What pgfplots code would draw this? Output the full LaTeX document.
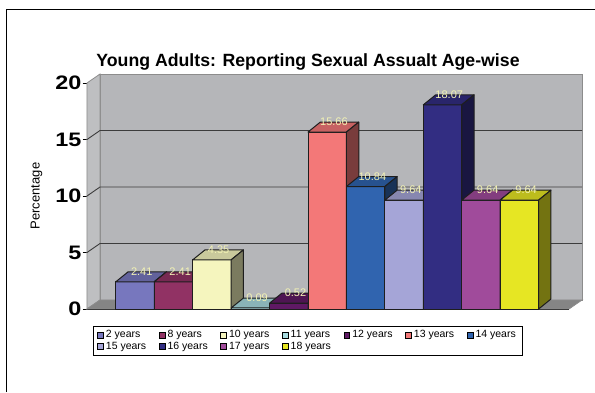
\documentclass[border=0pt]{standalone}
\usepackage{fontspec}
\setmainfont{Liberation Sans}
\usepackage{graphicx}
\usepackage{pgfplots}
\pgfplotsset{compat=1.18}
\definecolor{c2}{HTML}{7777BE}
\definecolor{c8}{HTML}{913264}
\definecolor{c10}{HTML}{F5F5BE}
\definecolor{c11}{HTML}{A8DCE0}
\definecolor{c12}{HTML}{5F1964}
\definecolor{c13}{HTML}{F37878}
\definecolor{c14}{HTML}{3064AF}
\definecolor{c15}{HTML}{A5A5D7}
\definecolor{c16}{HTML}{322D82}
\definecolor{c17}{HTML}{A04B9B}
\definecolor{c18}{HTML}{E6E623}
\definecolor{wallback}{HTML}{B5B6B9}
\definecolor{wallleft}{HTML}{BEBFC1}
\definecolor{walledge}{HTML}{8C8C8C}
\definecolor{floorgray}{HTML}{858585}
\definecolor{gridc}{HTML}{3C3C3C}
\definecolor{barline}{HTML}{1E1E1E}
\definecolor{labelc}{HTML}{F2F2B4}
% 3-D bar: index, value, colour
\newcommand\tdbar[3]{%
  \pgfmathsetmacro\xl{#1-0.5}%
  \pgfmathsetmacro\xr{#1+0.5}%
  \pgfmathsetmacro\xlb{#1-0.5+0.32}%
  \pgfmathsetmacro\xrb{#1+0.5+0.32}%
  \pgfmathsetmacro\vt{#2+0.88}%
  \addplot[forget plot, fill=#3, draw=barline, line width=1pt, line join=round] coordinates {(\xl,0) (\xr,0) (\xr,#2) (\xl,#2)} -- cycle;
  \addplot[forget plot, fill=#3!82!black, draw=barline, line width=1pt, line join=round] coordinates {(\xl,#2) (\xr,#2) (\xrb,\vt) (\xlb,\vt)} -- cycle;
  \addplot[forget plot, fill=#3!50!black, draw=barline, line width=1pt, line join=round] coordinates {(\xr,0) (\xrb,0.88) (\xrb,\vt) (\xr,#2)} -- cycle;
}
\begin{document}
\begin{tikzpicture}
\useasboundingbox (0,0) rectangle (595pt,392pt);
\draw[black, line width=1pt] (6.7pt,0pt) -- (6.7pt,382pt) -- (595pt,382pt);
\begin{axis}[
  at={(87pt,83pt)}, anchor=south west,
  scale only axis, width=482pt, height=226pt,
  xmin=-1.25, xmax=11.29, ymin=0, ymax=20,
  clip=false,
  axis lines*=left,
  axis line style={black, line width=0.9pt},
  xtick=\empty,
  ytick={0,5,10,15,20},
  tick align=outside, major tick length=4.3pt,
  tick style={black, line width=0.9pt},
  yticklabel={\scalebox{1.2}[1]{\pgfmathprintnumber[assume math mode=true]{\tick}}},
  yticklabel style={font=\fontsize{19.5}{20}\selectfont\bfseries, inner xsep=1pt},
  ylabel={Percentage},
  ylabel style={at={(axis description cs:-0.105,0.5)}, anchor=center, font=\fontsize{13}{14}\selectfont},
  every axis title shift=0pt,
  title={Young Adults: Reporting Sexual Assualt Age-wise},
  title style={at={(axis description cs:0.4585,1.072)}, anchor=base, font=\fontsize{17.7}{18}\selectfont\bfseries},
  legend columns=7,
  legend image code/.code={\draw[#1, draw=black, line width=0.6pt] (0pt,-2.9pt) rectangle (5.8pt,2.9pt);},
  legend style={at={(axis description cs:0.012,-0.075)}, anchor=north west,
    draw=black, line width=0.9pt, inner xsep=4pt, inner ysep=3pt,
    font=\fontsize{10.5}{12}\selectfont, /tikz/column sep=0pt,
    nodes={inner xsep=2.3pt, inner ysep=1pt, text height=7.4pt, text depth=2.1pt}},
  legend cell align=left,
]
% walls and floor
\addplot[forget plot, fill=wallback, draw=walledge, line width=0.8pt] coordinates {(-0.91,0.8) (11.63,0.8) (11.63,20.8) (-0.91,20.8)} -- cycle;
\addplot[forget plot, fill=wallleft, draw=walledge, line width=0.8pt] coordinates {(-1.25,0) (-0.91,0.8) (-0.91,20.8) (-1.25,20)} -- cycle;
\addplot[forget plot, fill=floorgray, draw=walledge, line width=0.8pt] coordinates {(-1.25,0) (11.29,0) (11.63,0.8) (-0.91,0.8)} -- cycle;
\addplot[forget plot, gridc, line width=0.9pt] coordinates {(-1.25,5) (-0.91,5.8) (11.63,5.8)};
\addplot[forget plot, gridc, line width=0.9pt] coordinates {(-1.25,10) (-0.91,10.8) (11.63,10.8)};
\addplot[forget plot, gridc, line width=0.9pt] coordinates {(-1.25,15) (-0.91,15.8) (11.63,15.8)};
% bars
\tdbar{0}{2.41}{c2}
\tdbar{1}{2.41}{c8}
\tdbar{2}{4.35}{c10}
\tdbar{3}{0.09}{c11}
\tdbar{4}{0.52}{c12}
\tdbar{5}{15.66}{c13}
\tdbar{6}{10.84}{c14}
\tdbar{7}{9.64}{c15}
\tdbar{8}{18.07}{c16}
\tdbar{9}{9.64}{c17}
\tdbar{10}{9.64}{c18}
% value labels
\addplot[forget plot, draw=none, point meta=y,
  nodes near coords={\pgfmathprintnumber[fixed, fixed zerofill, precision=2, assume math mode=true]{\pgfplotspointmeta}},
  every node near coord/.append style={anchor=center, xshift=6.7pt, yshift=10pt, inner sep=0pt, text=labelc, font=\fontsize{11}{12}\selectfont}]
  coordinates {(0,2.41) (1,2.41) (2,4.35) (3,0.09) (4,0.52) (5,15.66) (6,10.84) (7,9.64) (8,18.07) (9,9.64) (10,9.64)};
% legend
\addlegendimage{fill=c2}\addlegendentry{\makebox[50.6pt][l]{2 years}}
\addlegendimage{fill=c8}\addlegendentry{\makebox[50.6pt][l]{8 years}}
\addlegendimage{fill=c10}\addlegendentry{\makebox[50.6pt][l]{10 years}}
\addlegendimage{fill=c11}\addlegendentry{\makebox[50.6pt][l]{11 years}}
\addlegendimage{fill=c12}\addlegendentry{\makebox[50.6pt][l]{12 years}}
\addlegendimage{fill=c13}\addlegendentry{\makebox[50.6pt][l]{13 years}}
\addlegendimage{fill=c14}\addlegendentry{14 years}
\addlegendimage{fill=c15}\addlegendentry{\makebox[50.6pt][l]{15 years}}
\addlegendimage{fill=c16}\addlegendentry{\makebox[50.6pt][l]{16 years}}
\addlegendimage{fill=c17}\addlegendentry{\makebox[50.6pt][l]{17 years}}
\addlegendimage{fill=c18}\addlegendentry{\makebox[50.6pt][l]{18 years}}
\end{axis}
\end{tikzpicture}
\end{document}
